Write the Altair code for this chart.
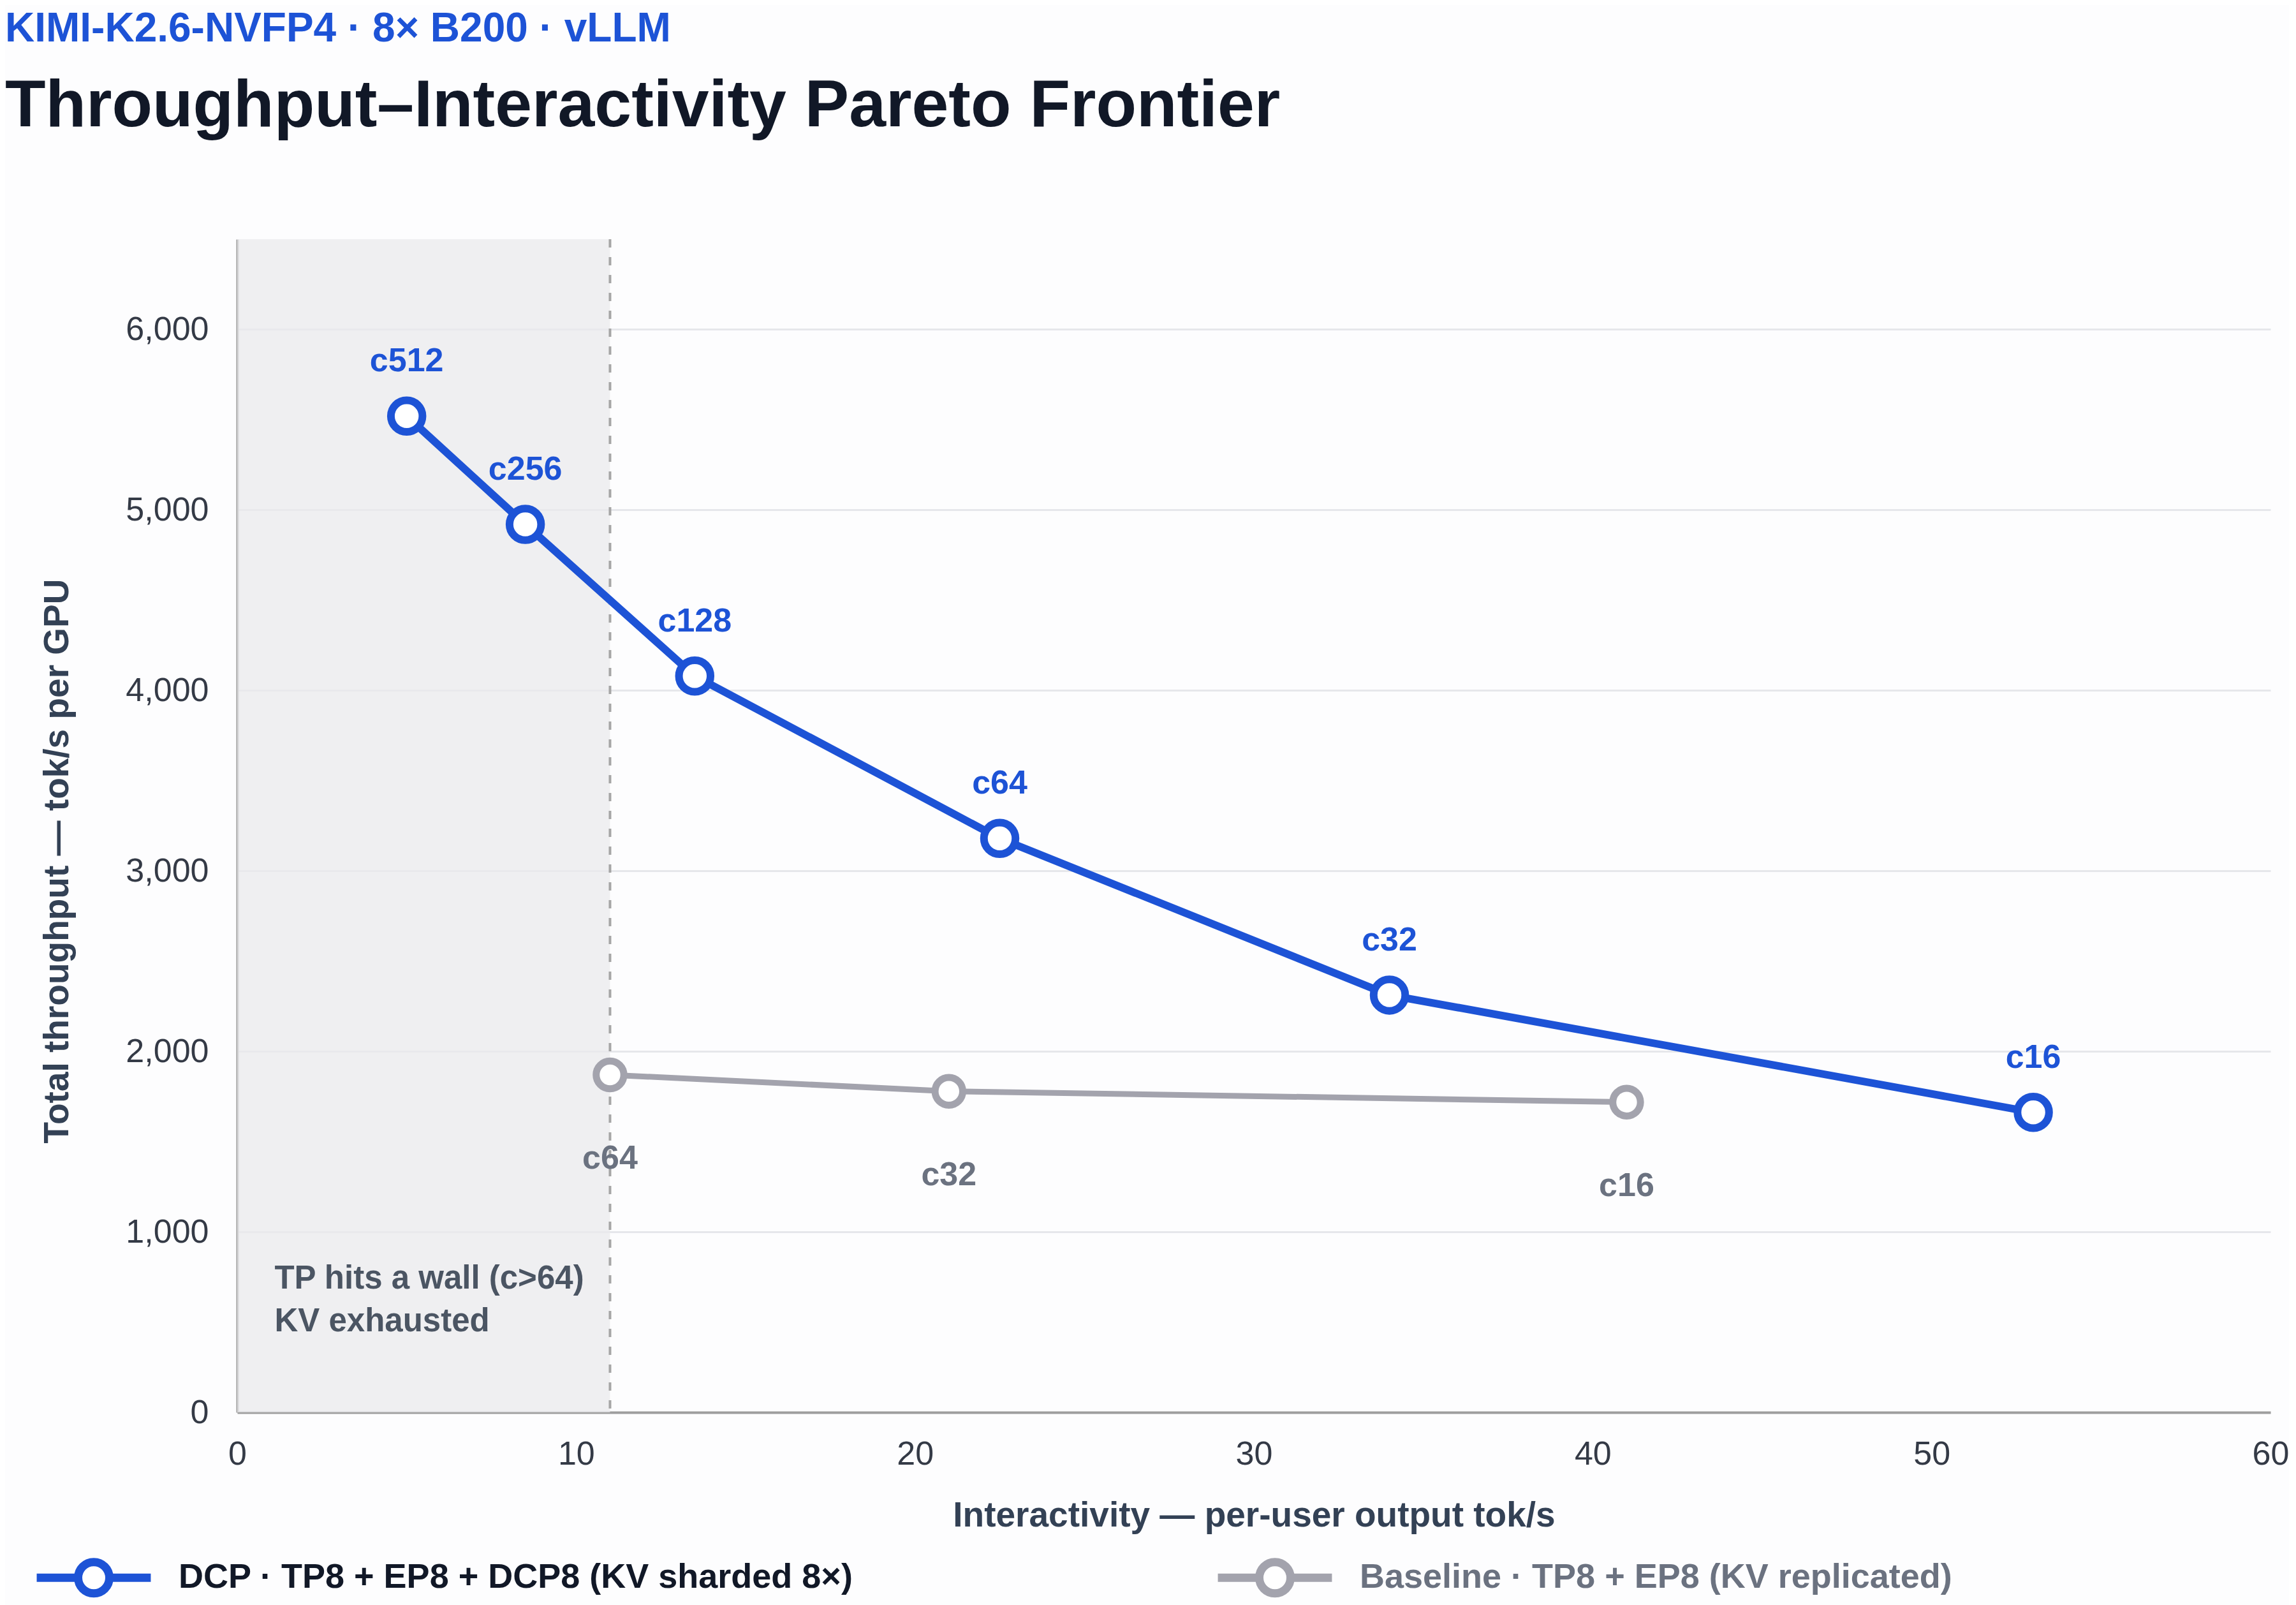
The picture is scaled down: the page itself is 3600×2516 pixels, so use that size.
import altair as alt
import pandas as pd

FONT = "Liberation Sans"

# ---------------- text ----------------
kicker = "KIMI-K2.6-NVFP4 · 8× B200 · vLLM"
headline = "Throughput–Interactivity Pareto Frontier"
x_title = "Interactivity — per-user output tok/s"
y_title = "Total throughput — tok/s per GPU"
wall_note = ["TP hits a wall (c>64)", "KV exhausted"]

# ---------------- series ----------------
series_names = ["DCP · TP8 + EP8 + DCP8 (KV sharded 8×)", "Baseline · TP8 + EP8 (KV replicated)"]
series_colors = ["#1d53d6", "#a3a3ad"]
label_colors = ["#1d53d6", "#6b7280"]
legend_text_colors = ["#111827", "#6b7280"]

dcp_labels = ["c512", "c256", "c128", "c64", "c32", "c16"]
dcp_interactivity = [5.0, 8.5, 13.5, 22.5, 34.0, 53.0]
dcp_throughput = [5520, 4920, 4080, 3180, 2312, 1662]

base_labels = ["c64", "c32", "c16"]
base_interactivity = [11.0, 21.0, 41.0]
base_throughput = [1870, 1779, 1719]

x_ticks = [0, 10, 20, 30, 40, 50, 60]
y_ticks = [0, 1000, 2000, 3000, 4000, 5000, 6000]
x_domain = [0, 60]
y_domain = [0, 6500]

wall_x = base_interactivity[0]   # baseline runs out of KV beyond c64
note_x = 1.1
note_y = 686

W, H = 3188, 1839

# ---------------- tables ----------------
df_dcp = pd.DataFrame({"series": series_names[0], "label": dcp_labels,
                       "x": dcp_interactivity, "y": dcp_throughput})
df_base = pd.DataFrame({"series": series_names[1], "label": base_labels,
                        "x": base_interactivity, "y": base_throughput})
df_shade = pd.DataFrame({"x": [x_domain[0]], "x_end": [wall_x]})
df_wall = pd.DataFrame({"x": [wall_x]})
df_note = pd.DataFrame({"x": [note_x], "y": [note_y]})

# ---------------- encodings ----------------
x_enc = alt.X("x:Q", scale=alt.Scale(domain=x_domain, nice=False),
              axis=alt.Axis(values=x_ticks, title=x_title, grid=False, labelFlush=False,
                            labelPadding=40, titlePadding=44))
y_enc = alt.Y("y:Q", scale=alt.Scale(domain=y_domain, nice=False),
              axis=alt.Axis(values=y_ticks, format=",.0f", title=y_title, grid=True,
                            labelFlush=False, labelPadding=45, titlePadding=78,
                            titleY=H / 2 + 55))

legend_symbol = "M-3.65,0L-1,0M1,0L3.65,0M1,0A1,1,0,1,1,-1,0A1,1,0,1,1,1,0Z"
label_color_expr = (f"datum.value === '{series_names[0]}' ? '{legend_text_colors[0]}' : "
                    f"'{legend_text_colors[1]}'")
legend = alt.Legend(
    title=None, orient="none", direction="horizontal",
    legendX=-256, legendY=2067, padding=0,
    symbolType=legend_symbol, symbolSize=2401, symbolStrokeWidth=13,
    symbolFillColor="#ffffff",
    labelFont=FONT, labelFontSize=54, labelFontWeight="bold",
    labelColor=alt.ExprRef(expr=label_color_expr),
    labelOffset=102, labelLimit=0, columnPadding=545,
)
stroke_enc = alt.Stroke("series:N", scale=alt.Scale(domain=series_names, range=series_colors),
                        legend=legend)

# ---------------- layers ----------------
shade = alt.Chart(df_shade).mark_rect(color="#e9e9ec", opacity=0.75).encode(
    x=x_enc, x2="x_end:Q", y=alt.value(0), y2=alt.value(H))

wall = alt.Chart(df_wall).mark_rule(color="#a6a6a6", strokeWidth=4, strokeDash=[13, 15]).encode(
    x=x_enc, y=alt.value(0), y2=alt.value(H))

line_base = alt.Chart(df_base).mark_line(strokeWidth=9).encode(x=x_enc, y=y_enc, stroke=stroke_enc)
line_dcp = alt.Chart(df_dcp).mark_line(strokeWidth=12).encode(x=x_enc, y=y_enc, stroke=stroke_enc)

pts_base = alt.Chart(df_base).mark_point(shape="circle", filled=True, fill="#ffffff", fillOpacity=1,
                                         size=1886, strokeWidth=11, opacity=1).encode(
    x=x_enc, y=y_enc, stroke=stroke_enc)
pts_dcp = alt.Chart(df_dcp).mark_point(shape="circle", filled=True, fill="#ffffff", fillOpacity=1,
                                       size=2450, strokeWidth=12, opacity=1).encode(
    x=x_enc, y=y_enc, stroke=stroke_enc)

txt_dcp = alt.Chart(df_dcp).mark_text(dy=-70, align="center", baseline="alphabetic", font=FONT,
                                      fontSize=52, fontWeight="bold", color=label_colors[0]).encode(
    x=x_enc, y=y_enc, text="label:N")
txt_base = alt.Chart(df_base).mark_text(dy=147, align="center", baseline="alphabetic", font=FONT,
                                        fontSize=52, fontWeight="bold", color=label_colors[1]).encode(
    x=x_enc, y=y_enc, text="label:N")

note = alt.Chart(df_note).mark_text(align="left", baseline="alphabetic", font=FONT, fontSize=51,
                                    fontWeight="bold", lineHeight=67, color="#4b5563",
                                    text=wall_note).encode(x=x_enc, y=y_enc)

chart = alt.layer(shade, wall, line_base, line_dcp, pts_base, pts_dcp, txt_dcp, txt_base, note).properties(
    width=W, height=H, padding={"top": 6, "left": 0, "right": 0, "bottom": 0},
    background="#fdfdfe",
    title=alt.TitleParams(
        text=kicker, subtitle=headline, anchor="start", frame="group", dx=-364,
        font=FONT, fontSize=64, fontWeight="bold", color="#1d53d6",
        subtitleFont=FONT, subtitleFontSize=104, subtitleFontWeight="bold",
        subtitleColor="#111827", subtitlePadding=38, offset=154,
    ),
).configure_view(stroke=None).configure_axis(
    labelFont=FONT, labelFontSize=52, labelColor="#343a46",
    titleFont=FONT, titleFontSize=55, titleFontWeight="bold", titleColor="#334155",
    domainColor="#9e9e9e", domainWidth=4, ticks=False, tickSize=0,
    gridColor="#e6e7eb", gridWidth=3,
)

chart.save("out.html", embed_options={"renderer": "svg", "actions": False})
